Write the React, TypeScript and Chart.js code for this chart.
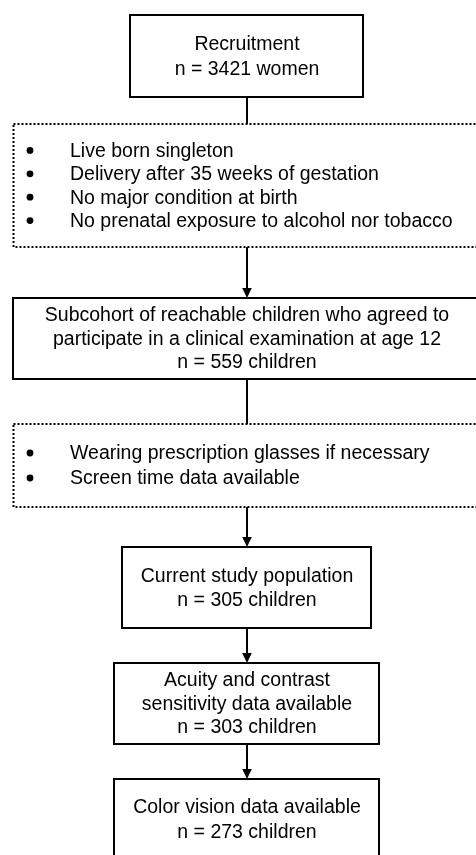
import React, { useEffect, useRef } from "react";
import { Chart, registerables } from "chart.js";

Chart.register(...registerables);

// ---- Data ----
const stageTitles: string[][] = [
  ["Recruitment"],
  [
    "Subcohort of reachable children who agreed to",
    "participate in a clinical examination at age 12",
  ],
  ["Current study population"],
  ["Acuity and contrast", "sensitivity data available"],
  ["Color vision data available"],
];
const stageCounts: number[] = [3421, 559, 305, 303, 273];
const stageUnits: string[] = ["women", "children", "children", "children", "children"];

const criteriaA: string[] = [
  "Live born singleton",
  "Delivery after 35 weeks of gestation",
  "No major condition at birth",
  "No prenatal exposure to alcohol nor tobacco",
];
const criteriaB: string[] = [
  "Wearing prescription glasses if necessary",
  "Screen time data available",
];

// ---- Layout (in scale units: x 0..476, y 0..855 top-down) ----
const W = 476;
const H = 855;
const CX = 247;
const stageRects = [
  { x0: 130, x1: 363, y0: 15, y1: 97, gap: 25 },
  { x0: 13, x1: 490, y0: 298, y1: 379, gap: 23.5 },
  { x0: 122, x1: 371, y0: 547, y1: 628, gap: 24 },
  { x0: 114, x1: 379, y0: 663, y1: 744, gap: 23.5 },
  { x0: 114, x1: 379, y0: 779, y1: 860, gap: 25 },
];
const criteriaRects = [
  { x0: 13.5, x1: 490, y0: 124, y1: 247, gap: 23.4, items: criteriaA },
  { x0: 13.5, x1: 490, y0: 424, y1: 507, gap: 25, items: criteriaB },
];
const connectors = [
  { y0: 97, y1: 124, arrow: false },
  { y0: 247, y1: 298, arrow: true },
  { y0: 379, y1: 424, arrow: false },
  { y0: 507, y1: 547, arrow: true },
  { y0: 628, y1: 663, arrow: true },
  { y0: 744, y1: 779, arrow: true },
];
const FONT = "19.5px 'Liberation Sans', Arial, sans-serif";

const flowPlugin = {
  id: "flow",
  beforeDraw(chart: any) {
    const c = chart.ctx;
    c.save();
    c.fillStyle = "#ffffff";
    c.fillRect(0, 0, chart.width, chart.height);
    c.restore();
  },
  afterDraw(chart: any) {
    const c: CanvasRenderingContext2D = chart.ctx;
    const xs = chart.scales.x;
    const ys = chart.scales.y;
    const px = (v: number) => xs.getPixelForValue(v);
    const py = (v: number) => ys.getPixelForValue(v);
    c.save();

    // connectors
    connectors.forEach((cn) => {
      const x = px(CX);
      const tip = py(cn.y1);
      const endLine = cn.arrow ? tip - 7 : tip;
      c.strokeStyle = "#000";
      c.lineWidth = 2;
      c.setLineDash([]);
      c.beginPath();
      c.moveTo(x, py(cn.y0));
      c.lineTo(x, endLine);
      c.stroke();
      if (cn.arrow) {
        c.fillStyle = "#000";
        c.beginPath();
        c.moveTo(x - 4.8, tip - 10);
        c.lineTo(x + 4.8, tip - 10);
        c.lineTo(x, tip);
        c.closePath();
        c.fill();
      }
    });

    // solid stage boxes
    stageRects.forEach((r, i) => {
      const x0 = px(r.x0), x1 = px(r.x1), y0 = py(r.y0), y1 = py(r.y1);
      c.fillStyle = "#fff";
      c.fillRect(x0, y0, x1 - x0, y1 - y0);
      c.strokeStyle = "#000";
      c.lineWidth = 2;
      c.setLineDash([]);
      c.strokeRect(x0, y0, x1 - x0, y1 - y0);
      const lines = [...stageTitles[i], `n = ${stageCounts[i]} ${stageUnits[i]}`];
      const mid = (y0 + y1) / 2;
      c.fillStyle = "#000";
      c.font = FONT;
      c.textAlign = "center";
      c.textBaseline = "middle";
      const cxp = px(CX);
      lines.forEach((t, k) => {
        const y = mid + (k - (lines.length - 1) / 2) * r.gap;
        c.fillText(t, cxp, y + 1);
      });
    });

    // dotted criteria boxes
    criteriaRects.forEach((r) => {
      const x0 = px(r.x0), x1 = px(r.x1), y0 = py(r.y0), y1 = py(r.y1);
      c.strokeStyle = "#000";
      c.lineWidth = 2;
      c.setLineDash([2, 2]);
      c.strokeRect(x0, y0, x1 - x0, y1 - y0);
      c.setLineDash([]);
      const mid = (y0 + y1) / 2;
      c.fillStyle = "#000";
      c.font = FONT;
      c.textAlign = "left";
      c.textBaseline = "middle";
      r.items.forEach((t, k) => {
        const y = mid + (k - (r.items.length - 1) / 2) * r.gap;
        c.beginPath();
        c.arc(px(30), y, 3.4, 0, Math.PI * 2);
        c.fill();
        c.fillText(t, px(70), y + 1);
      });
    });

    c.restore();
  },
};

export default function App() {
  const ref = useRef<HTMLCanvasElement | null>(null);
  useEffect(() => {
    if (!ref.current) return;
    const chart = new Chart(ref.current, {
      type: "scatter",
      data: { datasets: [{ data: [], showLine: false }] },
      options: {
        animation: false,
        responsive: false,
        devicePixelRatio: 1,
        layout: { padding: 0 },
        plugins: { legend: { display: false }, tooltip: { enabled: false } },
        scales: {
          x: { type: "linear", min: 0, max: W, display: false },
          y: { type: "linear", min: 0, max: H, reverse: true, display: false },
        },
      },
      plugins: [flowPlugin],
    });
    return () => chart.destroy();
  }, []);
  return (
    <div style={{ position: "absolute", left: 0, top: 0, width: W, height: H, background: "#fff" }}>
      <canvas ref={ref} width={W} height={H} style={{ width: W, height: H, display: "block" }} />
    </div>
  );
}
